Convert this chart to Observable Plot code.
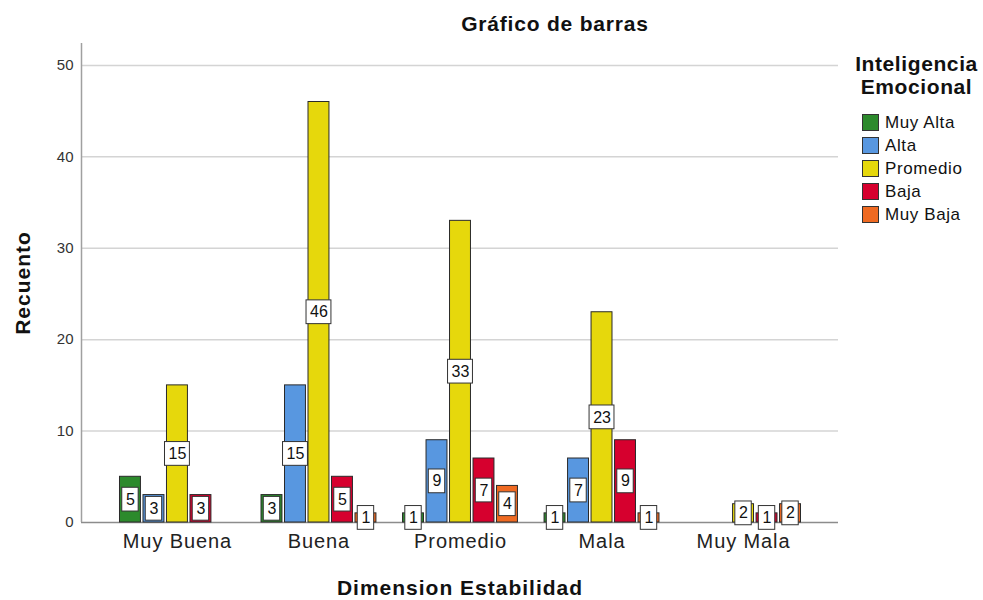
<!DOCTYPE html>
<html>
<head>
<meta charset="utf-8">
<script src="https://cdn.jsdelivr.net/npm/d3@7"></script>
<script src="https://cdn.jsdelivr.net/npm/@observablehq/plot@0.6"></script>
<style>
  body { margin: 0; background: #fff; font-family: "Liberation Sans", Arial, sans-serif; }
  #wrap { position: relative; width: 983px; height: 600px; }
  #title { position: absolute; left: 355px; width: 400px; top: 12px; text-align: center; font-weight: bold; font-size: 21px; letter-spacing: 0.8px; color: #111; }
  #spacer { height: 40px; }
  #legend { position: absolute; left: 843px; top: 52px; width: 145px; }
  #legend .lt { text-align: center; font-weight: bold; font-size: 21px; letter-spacing: 0.6px; line-height: 23px; color: #111; margin-left: 2px; }
  #legend .items { margin-top: 13px; margin-left: 19px; }
  #legend .item { display: flex; align-items: center; height: 23px; font-size: 17px; letter-spacing: 0.6px; color: #111; }
  #legend .sw { width: 17px; height: 17px; border: 1px solid #333; box-sizing: border-box; margin-right: 6px; }
  svg [aria-label="x-axis label"] text, svg [aria-label="y-axis label"] text { font-size: 21px; font-weight: bold; fill: #111; letter-spacing: 1px; }
  svg [aria-label="y-axis tick label"] text { fill: #333; }
  svg [aria-label="x-axis tick label"] text { fill: #222; letter-spacing: 0.9px; }
</style>
</head>
<body>
<div id="wrap">
  <div id="title">Gráfico de barras</div>
  <div id="spacer"></div>
  <div id="chart"></div>
  <div id="legend"></div>
</div>
<script>
// ---- data ----
const categories = ["Muy Buena", "Buena", "Promedio", "Mala", "Muy Mala"];
const seriesNames = ["Muy Alta", "Alta", "Promedio", "Baja", "Muy Baja"];
const muyAlta  = [5, 3, 1, 1, 0];
const alta     = [3, 15, 9, 7, 0];
const promedio = [15, 46, 33, 23, 2];
const baja     = [3, 5, 7, 9, 1];
const muyBaja  = [0, 1, 4, 1, 2];
const seriesColors = ["#2c8a2c", "#5897e0", "#e6d80c", "#d6002e", "#ef6a22"];
const yTicks = [0, 10, 20, 30, 40, 50];

const seriesValues = [muyAlta, alta, promedio, baja, muyBaja];
const rows = [];
categories.forEach((cat, ci) => {
  seriesNames.forEach((s, sj) => {
    rows.push({cat, ci, series: s, sj, value: seriesValues[sj][ci]});
  });
});
const drawn = rows.filter(d => d.value > 0);

// layout in scale units
const slot = 0.166;     // spacing between bars inside a group
const barW = 0.148;     // bar width
const boxH = 1.3;       // half height of value box (y units)
const xc = d => d.ci + (d.sj - 2) * slot;
const boxHalfW = d => (String(d.value).length > 1 ? 0.088 : 0.058);
const xDomain = [-0.678, 4.671];

const chart = Plot.plot({
  width: 983,
  height: 560,
  marginLeft: 81,
  marginRight: 145,
  marginTop: 3,
  marginBottom: 78,
  style: { fontFamily: "'Liberation Sans', Arial, sans-serif", background: "#fff" },
  x: { type: "linear", domain: xDomain },
  y: { domain: [0, 52.4] },
  color: { domain: seriesNames, range: seriesColors },
  marks: [
    Plot.gridY(yTicks.filter(t => t > 0), { stroke: "#d4d4d4", strokeOpacity: 1, strokeWidth: 1.5 }),
    Plot.ruleY([0], { stroke: "#8c8c8c", strokeWidth: 1.5 }),
    Plot.ruleX([xDomain[0]], { y1: 0, y2: 52.4, stroke: "#a0a0a0", strokeWidth: 1.5 }),
    Plot.axisY({ ticks: yTicks, tickSize: 0, tickPadding: 8, fontSize: 15, label: "Recuento", labelAnchor: "center", labelArrow: "none", labelOffset: 66 }),
    Plot.axisX({ ticks: [0, 1, 2, 3, 4], tickFormat: i => categories[i], tickSize: 0, tickPadding: 11, fontSize: 20, label: "Dimension Estabilidad", labelAnchor: "center", labelArrow: "none", labelOffset: 72 }),
    Plot.rect(drawn, {
      x1: d => xc(d) - barW / 2, x2: d => xc(d) + barW / 2,
      y1: 0, y2: "value",
      fill: "series", stroke: "#2a2a2a", strokeWidth: 1
    }),
    Plot.rect(drawn, {
      x1: d => xc(d) - boxHalfW(d), x2: d => xc(d) + boxHalfW(d),
      y1: d => d.value / 2 - boxH, y2: d => d.value / 2 + boxH,
      fill: "white", stroke: "#333", strokeWidth: 1
    }),
    Plot.text(drawn, {
      x: xc, y: d => d.value / 2, text: d => String(d.value),
      fontSize: 16, fill: "#111"
    })
  ]
});
document.getElementById("chart").appendChild(chart);

// legend
const lg = document.getElementById("legend");
lg.innerHTML = '<div class="lt">Inteligencia<br>Emocional</div>' +
  '<div class="items">' + seriesNames.map((s, i) =>
    `<div class="item"><span class="sw" style="background:${seriesColors[i]}"></span>${s}</div>`).join("") + '</div>';
</script>
</body>
</html>
